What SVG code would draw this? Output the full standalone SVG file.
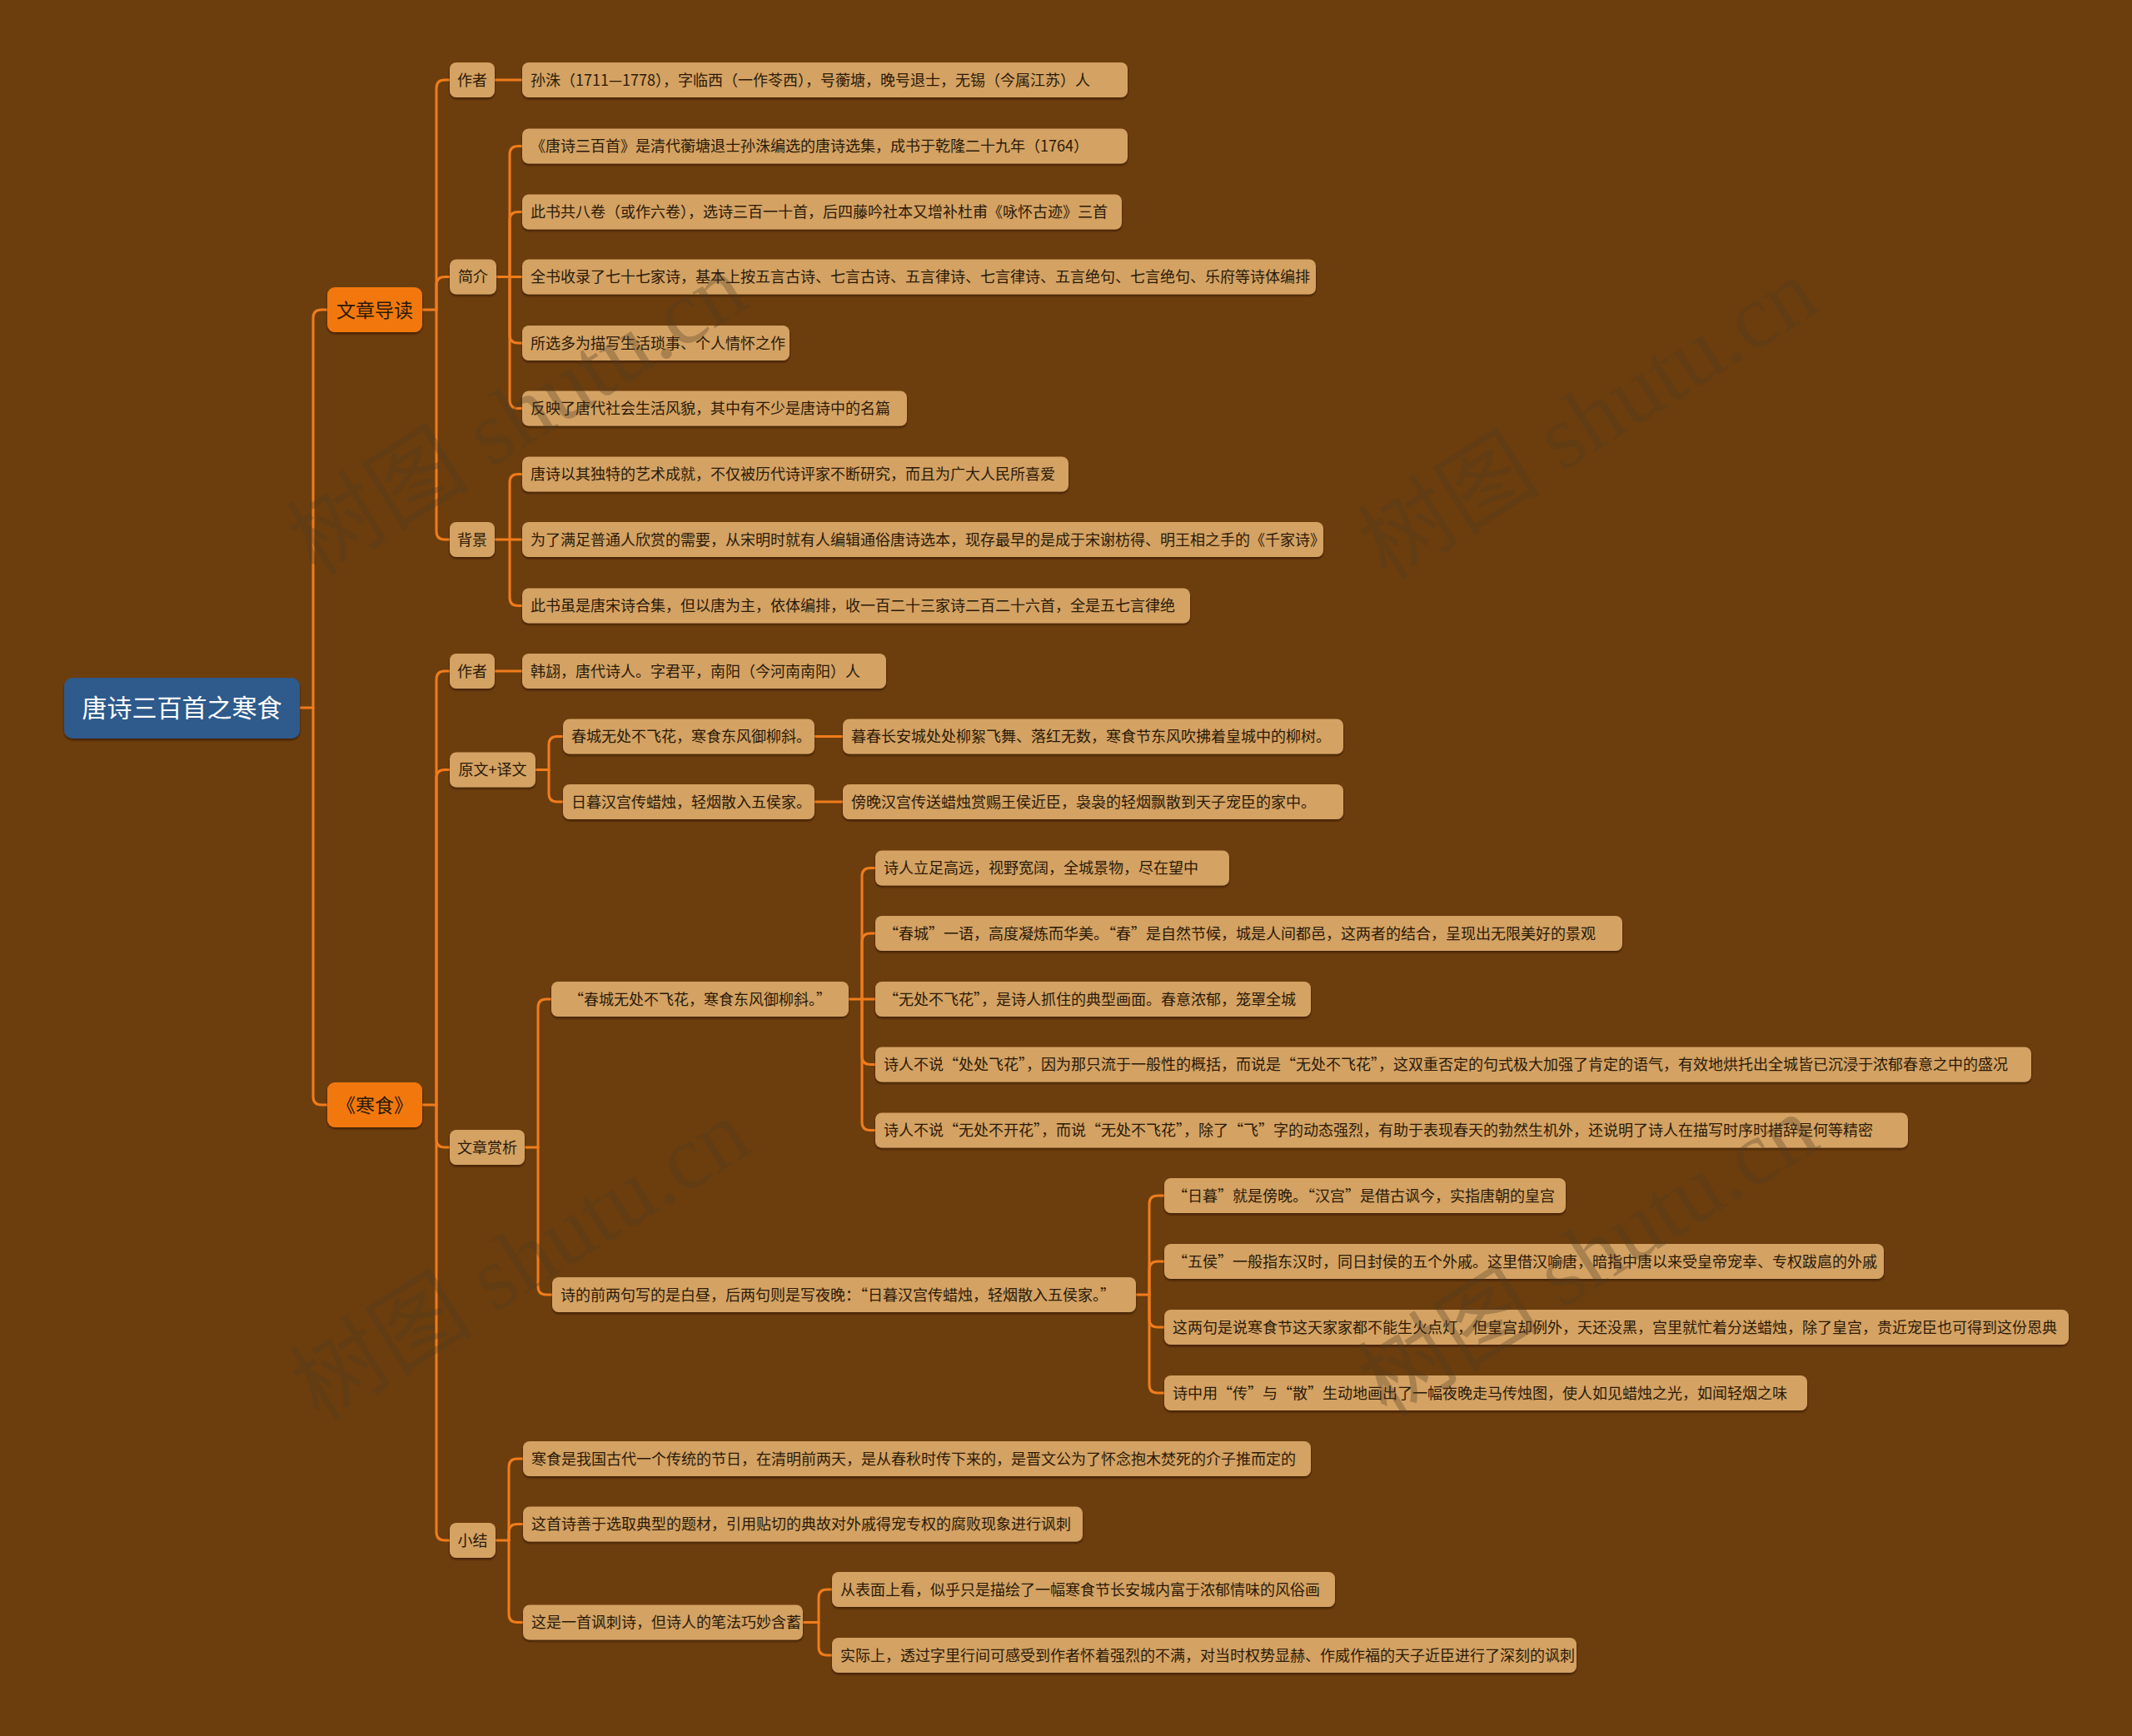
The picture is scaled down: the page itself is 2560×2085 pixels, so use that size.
<svg xmlns="http://www.w3.org/2000/svg" width="2560" height="2085" viewBox="0 0 2560 2085">
<defs>
<filter id="sh" x="-5%" y="-20%" width="110%" height="150%">
<feDropShadow dx="0" dy="2" stdDeviation="1.2" flood-color="#2e1802" flood-opacity="0.7"/>
</filter>
</defs>
<style>
text{font-family:"Noto Sans CJK SC","Microsoft YaHei","Noto Sans",sans-serif;}
.edge{fill:none;stroke:#f07c1c;stroke-width:3;stroke-linecap:round;}
.leaf rect,.l2 rect{fill:#d4a264;filter:url(#sh);}
.leaf text,.l2 text{font-size:18px;fill:#2a1a08;}
.l2 text{text-anchor:middle;}
.l1 rect{fill:#f2780f;filter:url(#sh);}
.l1 text{font-size:23px;fill:#2a1a08;text-anchor:middle;}
.root rect{fill:#2e5a8c;filter:url(#sh);}
.root text{font-size:30px;fill:#ffffff;text-anchor:middle;}
.wm{font-family:"Liberation Serif","Noto Sans CJK SC",serif;font-size:110px;fill:#4e3a26;fill-opacity:0.32;text-anchor:middle;}
</style>
<rect width="2560" height="2085" fill="#6c3e0d"/>

<g id="connectors">
<path class="edge" d="M360,850 H376"/>
<path class="edge" d="M376,850 V382 Q376,372 386,372 H393"/>
<path class="edge" d="M376,850 V1317 Q376,1327 386,1327 H393"/>

<path class="edge" d="M507,372 H524"/>
<path class="edge" d="M524,372 V106 Q524,96 534,96 H540"/>
<path class="edge" d="M524,372 V342.5 Q524,332.5 534,332.5 H540"/>
<path class="edge" d="M524,372 V638 Q524,648 534,648 H540"/>

<path class="edge" d="M594,96 H627"/>

<path class="edge" d="M596,332.5 H612"/>
<path class="edge" d="M612,332.5 V185.5 Q612,175.5 622,175.5 H627"/>
<path class="edge" d="M612,332.5 V264.5 Q612,254.5 622,254.5 H627"/>
<path class="edge" d="M612,332.5 H627"/>
<path class="edge" d="M612,332.5 V402 Q612,412 622,412 H627"/>
<path class="edge" d="M612,332.5 V480.5 Q612,490.5 622,490.5 H627"/>

<path class="edge" d="M594,648 H612"/>
<path class="edge" d="M612,648 V579.5 Q612,569.5 622,569.5 H627"/>
<path class="edge" d="M612,648 H627"/>
<path class="edge" d="M612,648 V717.5 Q612,727.5 622,727.5 H627"/>

<path class="edge" d="M507,1327 H524"/>
<path class="edge" d="M524,1327 V816 Q524,806 534,806 H540"/>
<path class="edge" d="M524,1327 V934.5 Q524,924.5 534,924.5 H540"/>
<path class="edge" d="M524,1327 V1368 Q524,1378 534,1378 H540"/>
<path class="edge" d="M524,1327 V1840 Q524,1850 534,1850 H540"/>

<path class="edge" d="M594,806 H627"/>

<path class="edge" d="M643,924.5 H659"/>
<path class="edge" d="M659,924.5 V894.5 Q659,884.5 669,884.5 H676"/>
<path class="edge" d="M659,924.5 V953 Q659,963 669,963 H676"/>
<path class="edge" d="M978,884.5 H1012"/>
<path class="edge" d="M978,963 H1012"/>

<path class="edge" d="M630,1378 H646"/>
<path class="edge" d="M646,1378 V1210 Q646,1200 656,1200 H662"/>
<path class="edge" d="M646,1378 V1545 Q646,1555 656,1555 H663"/>

<path class="edge" d="M1019,1200 H1035"/>
<path class="edge" d="M1035,1200 V1052.5 Q1035,1042.5 1045,1042.5 H1051"/>
<path class="edge" d="M1035,1200 V1131 Q1035,1121 1045,1121 H1051"/>
<path class="edge" d="M1035,1200 H1051"/>
<path class="edge" d="M1035,1200 V1268.5 Q1035,1278.5 1045,1278.5 H1051"/>
<path class="edge" d="M1035,1200 V1347.5 Q1035,1357.5 1045,1357.5 H1051"/>

<path class="edge" d="M1364,1555 H1380"/>
<path class="edge" d="M1380,1555 V1446 Q1380,1436 1390,1436 H1398"/>
<path class="edge" d="M1380,1555 V1525 Q1380,1515 1390,1515 H1398"/>
<path class="edge" d="M1380,1555 V1584 Q1380,1594 1390,1594 H1398"/>
<path class="edge" d="M1380,1555 V1663 Q1380,1673 1390,1673 H1398"/>

<path class="edge" d="M595,1850 H611"/>
<path class="edge" d="M611,1850 V1762 Q611,1752 621,1752 H628"/>
<path class="edge" d="M611,1850 V1840.5 Q611,1830.5 621,1830.5 H628"/>
<path class="edge" d="M611,1850 V1938.5 Q611,1948.5 621,1948.5 H628"/>

<path class="edge" d="M964,1948.5 H983"/>
<path class="edge" d="M983,1948.5 V1919 Q983,1909 993,1909 H999"/>
<path class="edge" d="M983,1948.5 V1978 Q983,1988 993,1988 H999"/>
</g>

<g id="root" class="root"><rect x="77" y="814" width="283" height="73" rx="10"/><text x="218.5" y="861">唐诗三百首之寒食</text></g>

<g id="n-daodu" class="l1"><rect x="393" y="345" width="114" height="54" rx="9"/><text x="450" y="380.5">文章导读</text></g>
<g id="n-hanshi" class="l1"><rect x="393" y="1300" width="114" height="54" rx="9"/><text x="450" y="1335.5">《寒食》</text></g>

<g id="n-zuozhe1" class="l2"><rect x="540" y="75" width="54" height="42" rx="8"/><text x="567" y="102.5">作者</text></g>
<g id="n-jianjie" class="l2"><rect x="540" y="311.5" width="56" height="42" rx="8"/><text x="568" y="339">简介</text></g>
<g id="n-beijing" class="l2"><rect x="540" y="627" width="54" height="42" rx="8"/><text x="567" y="654.5">背景</text></g>
<g id="n-zuozhe2" class="l2"><rect x="540" y="785" width="54" height="42" rx="8"/><text x="567" y="812.5">作者</text></g>
<g id="n-yuanwen" class="l2"><rect x="540" y="903.5" width="103" height="42" rx="8"/><text x="591.5" y="931">原文+译文</text></g>
<g id="n-shangxi" class="l2"><rect x="540" y="1357" width="90" height="42" rx="8"/><text x="585" y="1384.5">文章赏析</text></g>
<g id="n-xiaojie" class="l2"><rect x="540" y="1829" width="55" height="42" rx="8"/><text x="567.5" y="1856.5">小结</text></g>

<g id="l-zuozhe1" class="leaf"><rect x="627" y="75" width="727" height="42" rx="8"/><text x="637" y="102.5">孙洙（1711—1778），字临西（一作苓西），号蘅塘，晚号退士，无锡（今属江苏）人</text></g>

<g id="l-jj1" class="leaf"><rect x="627" y="154.5" width="727" height="42" rx="8"/><text x="637" y="182">《唐诗三百首》是清代蘅塘退士孙洙编选的唐诗选集，成书于乾隆二十九年（1764）</text></g>
<g id="l-jj2" class="leaf"><rect x="627" y="233.5" width="720" height="42" rx="8"/><text x="637" y="261">此书共八卷（或作六卷），选诗三百一十首，后四藤吟社本又增补杜甫《咏怀古迹》三首</text></g>
<g id="l-jj3" class="leaf"><rect x="627" y="311.5" width="953" height="42" rx="8"/><text x="637" y="339">全书收录了七十七家诗，基本上按五言古诗、七言古诗、五言律诗、七言律诗、五言绝句、七言绝句、乐府等诗体编排</text></g>
<g id="l-jj4" class="leaf"><rect x="627" y="391" width="321" height="42" rx="8"/><text x="637" y="418.5">所选多为描写生活琐事、个人情怀之作</text></g>
<g id="l-jj5" class="leaf"><rect x="627" y="469.5" width="462" height="42" rx="8"/><text x="637" y="497">反映了唐代社会生活风貌，其中有不少是唐诗中的名篇</text></g>

<g id="l-bj1" class="leaf"><rect x="627" y="548.5" width="656" height="42" rx="8"/><text x="637" y="576">唐诗以其独特的艺术成就，不仅被历代诗评家不断研究，而且为广大人民所喜爱</text></g>
<g id="l-bj2" class="leaf"><rect x="627" y="627" width="962" height="42" rx="8"/><text x="637" y="654.5">为了满足普通人欣赏的需要，从宋明时就有人编辑通俗唐诗选本，现存最早的是成于宋谢枋得、明王相之手的《千家诗》</text></g>
<g id="l-bj3" class="leaf"><rect x="627" y="706.5" width="802" height="42" rx="8"/><text x="637" y="734">此书虽是唐宋诗合集，但以唐为主，依体编排，收一百二十三家诗二百二十六首，全是五七言律绝</text></g>

<g id="l-zuozhe2" class="leaf"><rect x="627" y="785" width="437" height="42" rx="8"/><text x="637" y="812.5">韩翃，唐代诗人。字君平，南阳（今河南南阳）人</text></g>

<g id="l-yw1" class="leaf"><rect x="676" y="863.5" width="302" height="42" rx="8"/><text x="686" y="891">春城无处不飞花，寒食东风御柳斜。</text></g>
<g id="l-yw2" class="leaf"><rect x="676" y="942" width="302" height="42" rx="8"/><text x="686" y="969.5">日暮汉宫传蜡烛，轻烟散入五侯家。</text></g>
<g id="l-yw1t" class="leaf"><rect x="1012" y="863.5" width="601" height="42" rx="8"/><text x="1022" y="891">暮春长安城处处柳絮飞舞、落红无数，寒食节东风吹拂着皇城中的柳树。</text></g>
<g id="l-yw2t" class="leaf"><rect x="1012" y="942" width="601" height="42" rx="8"/><text x="1022" y="969.5">傍晚汉宫传送蜡烛赏赐王侯近臣，袅袅的轻烟飘散到天子宠臣的家中。</text></g>

<g id="l-sx1" class="leaf"><rect x="662" y="1179" width="357" height="42" rx="8"/><text x="683" y="1206.5">“春城无处不飞花，寒食东风御柳斜。”</text></g>
<g id="l-sx1a" class="leaf"><rect x="1051" y="1021.5" width="425" height="42" rx="8"/><text x="1061" y="1049">诗人立足高远，视野宽阔，全城景物，尽在望中</text></g>
<g id="l-sx1b" class="leaf"><rect x="1051" y="1100" width="897" height="42" rx="8"/><text x="1061" y="1127.5">“春城”一语，高度凝炼而华美。“春”是自然节候，城是人间都邑，这两者的结合，呈现出无限美好的景观</text></g>
<g id="l-sx1c" class="leaf"><rect x="1051" y="1179" width="523" height="42" rx="8"/><text x="1061" y="1206.5">“无处不飞花”，是诗人抓住的典型画面。春意浓郁，笼罩全城</text></g>
<g id="l-sx1d" class="leaf"><rect x="1051" y="1257.5" width="1388" height="42" rx="8"/><text x="1061" y="1285">诗人不说“处处飞花”，因为那只流于一般性的概括，而说是“无处不飞花”，这双重否定的句式极大加强了肯定的语气，有效地烘托出全城皆已沉浸于浓郁春意之中的盛况</text></g>
<g id="l-sx1e" class="leaf"><rect x="1051" y="1336.5" width="1240" height="42" rx="8"/><text x="1061" y="1364">诗人不说“无处不开花”，而说“无处不飞花”，除了“飞”字的动态强烈，有助于表现春天的勃然生机外，还说明了诗人在描写时序时措辞是何等精密</text></g>

<g id="l-sx2" class="leaf"><rect x="663" y="1534" width="701" height="42" rx="8"/><text x="673" y="1561.5">诗的前两句写的是白昼，后两句则是写夜晚：“日暮汉宫传蜡烛，轻烟散入五侯家。”</text></g>
<g id="l-sx2a" class="leaf"><rect x="1398" y="1415" width="482" height="42" rx="8"/><text x="1408" y="1442.5">“日暮”就是傍晚。“汉宫”是借古讽今，实指唐朝的皇宫</text></g>
<g id="l-sx2b" class="leaf"><rect x="1398" y="1494" width="864" height="42" rx="8"/><text x="1408" y="1521.5">“五侯”一般指东汉时，同日封侯的五个外戚。这里借汉喻唐，暗指中唐以来受皇帝宠幸、专权跋扈的外戚</text></g>
<g id="l-sx2c" class="leaf"><rect x="1398" y="1573" width="1086" height="42" rx="8"/><text x="1408" y="1600.5">这两句是说寒食节这天家家都不能生火点灯，但皇宫却例外，天还没黑，宫里就忙着分送蜡烛，除了皇宫，贵近宠臣也可得到这份恩典</text></g>
<g id="l-sx2d" class="leaf"><rect x="1398" y="1652" width="772" height="42" rx="8"/><text x="1408" y="1679.5">诗中用“传”与“散”生动地画出了一幅夜晚走马传烛图，使人如见蜡烛之光，如闻轻烟之味</text></g>

<g id="l-xj1" class="leaf"><rect x="628" y="1731" width="946" height="42" rx="8"/><text x="638" y="1758.5">寒食是我国古代一个传统的节日，在清明前两天，是从春秋时传下来的，是晋文公为了怀念抱木焚死的介子推而定的</text></g>
<g id="l-xj2" class="leaf"><rect x="628" y="1809.5" width="672" height="42" rx="8"/><text x="638" y="1837">这首诗善于选取典型的题材，引用贴切的典故对外戚得宠专权的腐败现象进行讽刺</text></g>
<g id="l-xj3" class="leaf"><rect x="628" y="1927.5" width="336" height="42" rx="8"/><text x="638" y="1955">这是一首讽刺诗，但诗人的笔法巧妙含蓄</text></g>
<g id="l-xj3a" class="leaf"><rect x="999" y="1888" width="604" height="42" rx="8"/><text x="1009" y="1915.5">从表面上看，似乎只是描绘了一幅寒食节长安城内富于浓郁情味的风俗画</text></g>
<g id="l-xj3b" class="leaf"><rect x="999" y="1967" width="894" height="42" rx="8"/><text x="1009" y="1994.5">实际上，透过字里行间可感受到作者怀着强烈的不满，对当时权势显赫、作威作福的天子近臣进行了深刻的讽刺</text></g>

<g id="watermarks">
<text class="wm" transform="translate(641,530) rotate(-32)">树图 shutu.cn</text>
<text class="wm" transform="translate(1927,535) rotate(-32)">树图 shutu.cn</text>
<text class="wm" transform="translate(645,1545) rotate(-32)">树图 shutu.cn</text>
<text class="wm" transform="translate(1927,1540) rotate(-32)">树图 shutu.cn</text>
</g>
</svg>
